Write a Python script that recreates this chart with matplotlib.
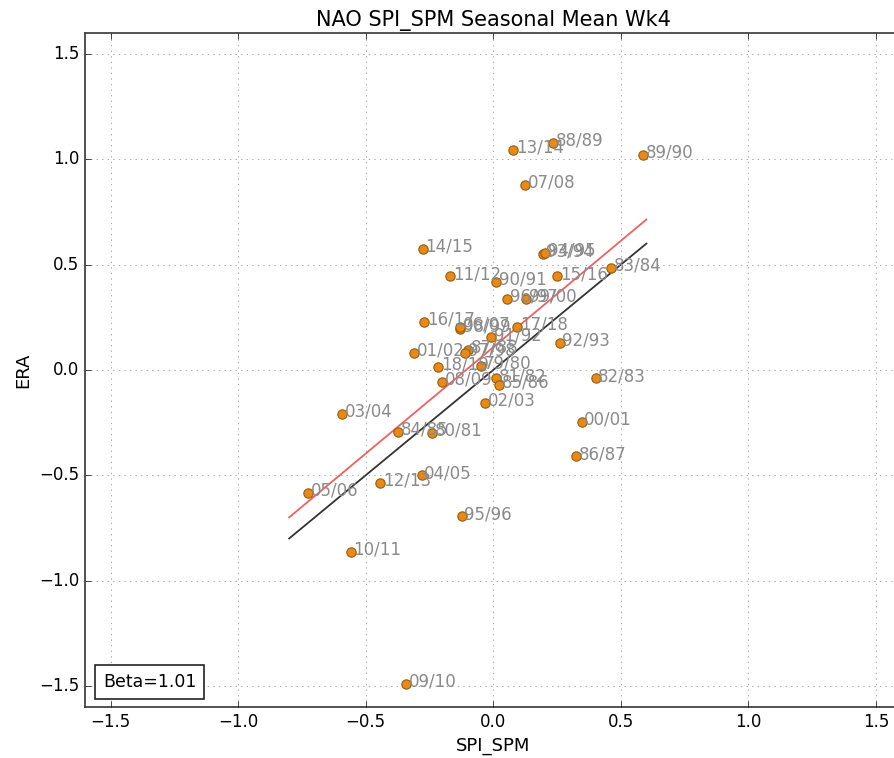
import numpy as np
import matplotlib
matplotlib.use("Agg")
import matplotlib.pyplot as plt

# seasonal means, SPI_SPM (x) against ERA (y)
seasons = ["79/80", "80/81", "81/82", "82/83", "83/84", "84/85", "85/86", "86/87",
           "87/88", "88/89", "89/90", "90/91", "91/92", "92/93", "93/94", "94/95",
           "95/96", "96/97", "97/98", "98/99", "99/00", "00/01", "01/02", "02/03",
           "03/04", "04/05", "05/06", "06/07", "07/08", "08/09", "09/10", "10/11",
           "11/12", "12/13", "13/14", "14/15", "15/16", "16/17", "17/18", "18/19"]
spi_spm = [-0.048, -0.240, 0.012, 0.401, 0.462, -0.372, 0.022, 0.326,
           -0.099, 0.235, 0.588, 0.012, -0.008, 0.260, 0.194, 0.204,
           -0.124, 0.053, -0.109, -0.129, 0.129, 0.346, -0.311, -0.033,
           -0.594, -0.281, -0.725, -0.129, 0.124, -0.200, -0.341, -0.559,
           -0.170, -0.442, 0.078, -0.276, 0.250, -0.271, 0.093, -0.215]
era = [0.02, -0.30, -0.04, -0.04, 0.485, -0.295, -0.07, -0.41,
       0.095, 1.08, 1.02, 0.42, 0.155, 0.13, 0.55, 0.555,
       -0.695, 0.338, 0.08, 0.195, 0.338, -0.245, 0.08, -0.155,
       -0.21, -0.50, -0.585, 0.205, 0.88, -0.055, -1.49, -0.865,
       0.445, -0.535, 1.045, 0.575, 0.445, 0.229, 0.205, 0.015]

beta = 1.01
intercept = 0.108
line_x = [-0.8, 0.6]

plt.style.use("classic")
fig = plt.figure(figsize=(8.94, 7.58), dpi=100, facecolor="white")
# right spine sits just past the image edge, as in the original
ax = fig.add_axes([0.0951, 0.0673, 0.9133, 0.8892])

x = np.array(line_x)
ax.plot(x, x, color="#333333", lw=1.3)
ax.plot(x, beta * x + intercept, color="#f06060", lw=1.3)

ax.scatter(spi_spm, era, s=45, c="#e88a14", edgecolors="#9a5a10", linewidths=0.8, zorder=3)
for lab, xi, yi in zip(seasons, spi_spm, era):
    ax.annotate(lab, (xi, yi), xytext=(2, -2), textcoords="offset points",
                color="#8a8a8a", fontsize=12, zorder=4)

ax.text(0.022, 0.03, "Beta=%.2f" % beta, transform=ax.transAxes, fontsize=12.5,
        bbox=dict(boxstyle="square,pad=0.45", fc="white", ec="#222222", lw=1.2))

ax.set_xlim(-1.6, 1.6)
ax.set_ylim(-1.6, 1.6)
ax.set_xticks(np.arange(-1.5, 1.6, 0.5))
ax.set_yticks(np.arange(-1.5, 1.6, 0.5))
ax.grid(True, color="#888888")
for sp in ax.spines.values():
    sp.set_linewidth(1.3)
    sp.set_color("#444444")
ax.set_xlabel("SPI_SPM", fontsize=13)
ax.set_ylabel("ERA", fontsize=13)
ax.set_title("NAO SPI_SPM Seasonal Mean Wk4", fontsize=15)

fig.savefig("out.png", dpi=100, facecolor="white")
